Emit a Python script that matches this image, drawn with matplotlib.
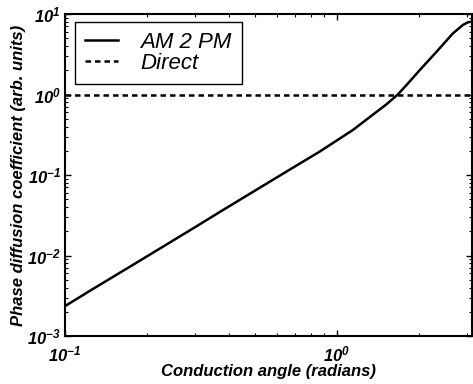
import numpy as np
import matplotlib
matplotlib.use("Agg")
import matplotlib.pyplot as plt
from matplotlib.ticker import FuncFormatter, LogLocator

plt.rcParams['font.family'] = ['Liberation Sans', 'DejaVu Sans']
plt.rcParams['mathtext.fontset'] = 'custom'
plt.rcParams['mathtext.bf'] = 'Liberation Sans:bold:italic'
plt.rcParams['mathtext.rm'] = 'Liberation Sans:bold:italic'

# values
angle = np.array([0.100, 0.1267, 0.1690, 0.2235, 0.3057, 0.3810, 0.5081,
                  0.6719, 0.8660, 1.145, 1.322, 1.527, 1.676, 1.839, 2.019,
                  2.331, 2.495, 2.670, 2.906, 3.031, 3.1416])
am2pm = np.array([0.00235, 0.00384, 0.00690, 0.01222, 0.02323, 0.0367, 0.0661,
                  0.1170, 0.196, 0.362, 0.525, 0.762, 1.0, 1.41, 2.015,
                  3.42, 4.43, 5.73, 7.30, 7.88, 8.07])
direct_level = 1.0

fig = plt.figure(figsize=(4.73, 3.84), dpi=100)
ax = fig.add_axes([0.1374, 0.125, 0.8605, 0.8385])

ax.plot(angle, am2pm, 'k-', lw=1.8, label='AM 2 PM')
ax.axhline(direct_level, color='k', ls=(0, (2.2, 1.6)), lw=1.8, label='Direct')

ax.set_xscale('log')
ax.set_yscale('log')
ax.set_xlim(0.1, np.pi)
ax.set_ylim(1e-3, 10)

fmt = FuncFormatter(lambda v, p: r'$\mathbf{10^{%d}}$' % int(round(np.log10(v))))
ax.xaxis.set_major_locator(LogLocator(base=10))
ax.yaxis.set_major_locator(LogLocator(base=10))
ax.xaxis.set_major_formatter(fmt)
ax.yaxis.set_major_formatter(fmt)
ax.tick_params(which='both', direction='in', top=True, right=True, labelsize=12)
ax.tick_params(which='major', length=4, width=1)
ax.tick_params(which='minor', length=2, width=0.8)
ax.tick_params(axis='x', pad=6)
ax.tick_params(axis='y', pad=3)
for s in ax.spines.values():
    s.set_linewidth(1.5)

ax.set_xlabel('Conduction angle (radians)', fontsize=12, fontweight='bold',
              fontstyle='italic', labelpad=0)
ax.set_ylabel('Phase diffusion coefficient (arb. units)', fontsize=12,
              fontweight='bold', fontstyle='italic', labelpad=1)

leg = ax.legend(loc='upper left', bbox_to_anchor=(0.0246, 0.975),
                prop={'style': 'italic', 'size': 16}, handlelength=1.5,
                handletextpad=1.0, labelspacing=0.0, borderpad=0.45,
                borderaxespad=0, fancybox=False, framealpha=1)
leg.get_frame().set_edgecolor('k')
leg.get_frame().set_linewidth(1.0)

fig.savefig('out.png', dpi=100)
